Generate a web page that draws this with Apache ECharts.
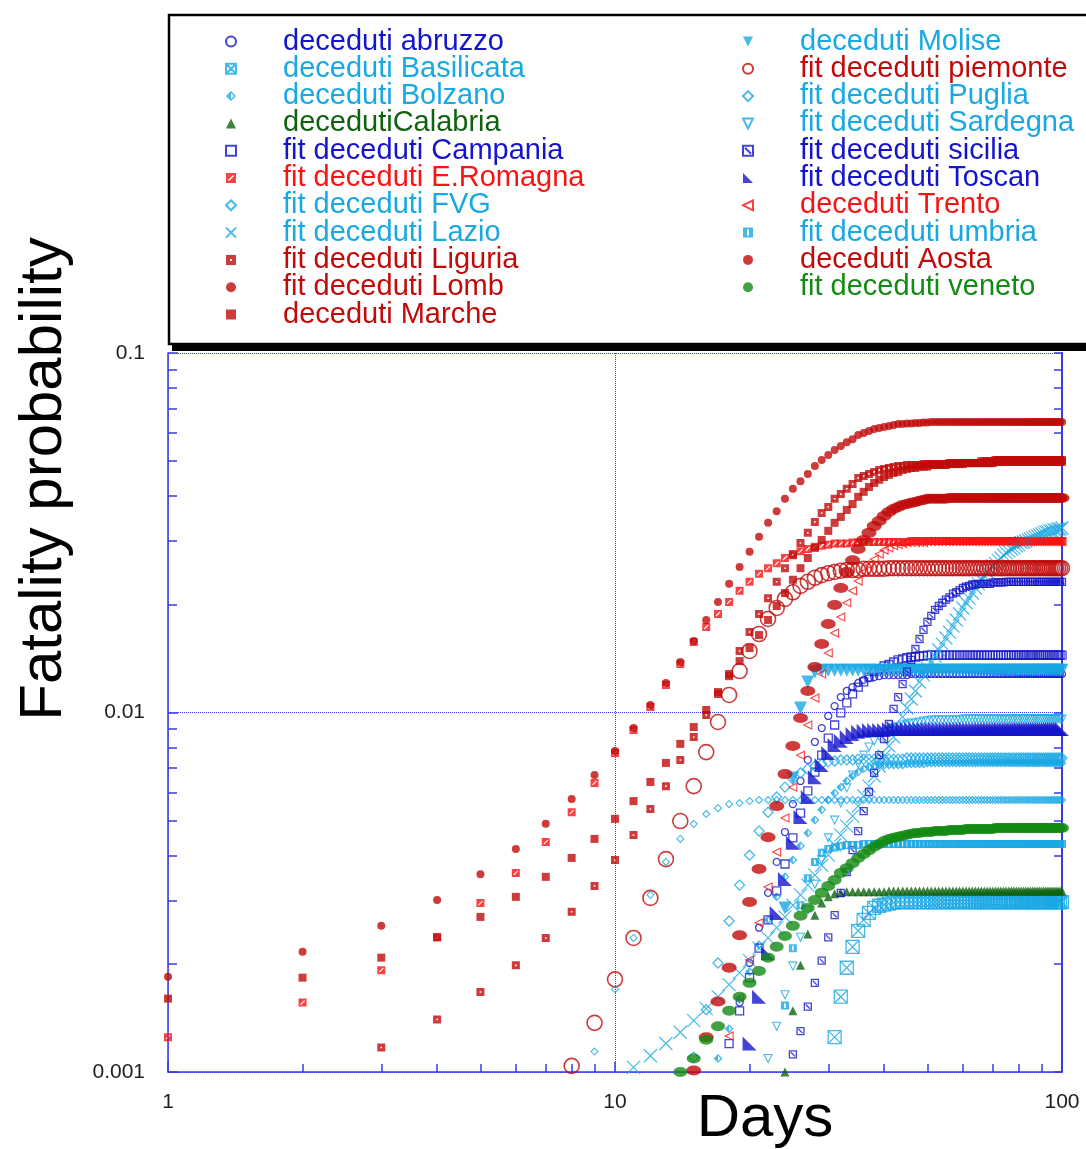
<!DOCTYPE html>
<html><head><meta charset="utf-8">
<script src="https://cdn.jsdelivr.net/npm/echarts@6/dist/echarts.min.js"></script>
<style>html,body{margin:0;padding:0;background:#fff}#c{width:1086px;height:1149px}</style>
</head><body><div id="c"></div>
<script>
// ---------------- DATA ----------------
const X_MAJOR = [1, 10, 100];
const X_LABELS = ['1', '10', '100'];
const X_MINOR = [2,3,4,5,6,7,8,9,20,30,40,50,60,70,80,90];
const Y_MAJOR = [0.001, 0.01, 0.1];
const Y_LABELS = ['0.001', '0.01', '0.1'];
const Y_MINOR = [0.002,0.003,0.004,0.005,0.006,0.007,0.008,0.009,0.02,0.03,0.04,0.05,0.06,0.07,0.08,0.09];

// first day of each series (values continue one per day up to day 100)
const startDay = {abruzzo:19, basilicata:31, bolzano:17, calabria:24, campania:18, eromagna:1, fvg:15, lazio:11,
  liguria:3, lomb:1, marche:1, molise:24, piemonte:8, puglia:9, sardegna:22, sicilia:25, toscan:20, trento:18,
  umbria:24, aosta:15, veneto:14};

const abruzzo = [
0.00156,0.00201,
0.00252,0.00315,0.00384,0.00465,0.00556,0.00645,0.00738,0.00828,0.00905,0.00978,
0.01042,0.01104,0.01148,0.01177,0.01208,0.01232,0.01247,0.01255,0.01262,0.0127,
0.0127,0.0127,0.0127,0.0127,0.0127,0.0128,0.0128,0.0128,0.0128,0.0128,
0.0128,0.0128,0.0128,0.0128,0.0128,0.0128,0.0128,0.0128,0.0128,0.0128,
0.0128,0.0128,0.0128,0.0128,0.0128,0.0128,0.0128,0.0128,0.0128,0.0128,
0.0128,0.0128,0.0128,0.0128,0.0128,0.0128,0.0128,0.0128,0.0128,0.0128,
0.0128,0.0128,0.0128,0.0128,0.0128,0.0128,0.0128,0.0128,0.0128,0.0128,
0.0128,0.0128,0.0128,0.0128,0.0128,0.0128,0.0128,0.0128,0.0128,0.0128];

const basilicata = [
0.00125,0.00162,0.00195,0.00223,0.00247,0.00265,0.00277,0.00286,0.0029,0.00292,
0.00294,0.00296,0.00297,0.00297,0.00297,0.00297,0.00297,0.00297,0.00297,0.00297,
0.00297,0.00297,0.00297,0.00297,0.00297,0.00297,0.00297,0.00297,0.00297,0.00297,
0.00297,0.00297,0.00297,0.00297,0.00297,0.00297,0.00297,0.00297,0.00297,0.00297,
0.00297,0.00297,0.00297,0.00297,0.00297,0.00297,0.00297,0.00297,0.00297,0.00297,
0.00297,0.00297,0.00297,0.00297,0.00297,0.00297,0.00297,0.00297,0.00297,0.00297,
0.00297,0.00297,0.00297,0.00297,0.00297,0.00297,0.00297,0.00297,0.00297,0.00297];

const bolzano = [
0.00109,0.00132,0.00159,0.0019,
0.00226,0.00265,0.00307,0.00349,0.00389,0.00425,0.00462,0.00502,0.00536,0.00571,
0.00597,0.0062,0.00645,0.00666,0.00683,0.00697,0.00706,0.0071,0.00714,0.00714,
0.00714,0.00714,0.00714,0.00714,0.00719,0.00719,0.00719,0.00719,0.00719,0.00724,
0.00724,0.00724,0.00724,0.00724,0.00724,0.00724,0.00724,0.00724,0.00724,0.00724,
0.00724,0.00724,0.00724,0.00724,0.00724,0.00724,0.00724,0.00724,0.00724,0.00724,
0.00724,0.00724,0.00724,0.00724,0.00724,0.00724,0.00724,0.00724,0.00724,0.00724,
0.00724,0.00724,0.00724,0.00724,0.00724,0.00724,0.00724,0.00724,0.00724,0.00724,
0.00724,0.00724,0.00724,0.00724,0.00724,0.00724,0.00724,0.00724,0.00724,0.00724];

const calabria = [
0.001,0.00148,0.00198,0.00242,0.00273,0.00295,0.00307,
0.00313,0.00315,0.00317,0.00317,0.00317,0.00317,0.00317,0.00317,0.00317,0.00317,
0.00319,0.00319,0.00319,0.00319,0.00319,0.00319,0.00319,0.00319,0.00319,0.00319,
0.00319,0.00319,0.00319,0.00319,0.00319,0.00319,0.00319,0.00319,0.00319,0.00319,
0.00319,0.00319,0.00319,0.00319,0.00319,0.00319,0.00319,0.00319,0.00319,0.00319,
0.00319,0.00319,0.00319,0.00319,0.00319,0.00319,0.00319,0.00319,0.00319,0.00319,
0.00319,0.00319,0.00319,0.00319,0.00319,0.00319,0.00319,0.00319,0.00319,0.00319,
0.00319,0.00319,0.00319,0.00319,0.00319,0.00319,0.00319,0.00319,0.00319,0.00319];

const campania = [
0.0012,0.00148,0.00183,
0.00221,0.00265,0.00319,0.00379,0.00448,0.00525,0.00605,0.00683,0.00761,0.00849,
0.00923,0.00997,0.01063,0.01126,0.01177,0.01216,0.01255,0.013,0.01321,0.01347,
0.0136,0.01382,0.014,0.01409,0.0142,0.01427,0.01427,0.01436,0.01436,0.01445,
0.01445,0.01445,0.01445,0.01445,0.01445,0.01445,0.01445,0.01445,0.01445,0.01445,
0.01445,0.01445,0.01445,0.01445,0.01445,0.01445,0.01445,0.01445,0.01445,0.01445,
0.01445,0.01445,0.01445,0.01445,0.01445,0.01445,0.01445,0.01445,0.01445,0.01445,
0.01445,0.01445,0.01445,0.01445,0.01445,0.01445,0.01445,0.01445,0.01445,0.01445,
0.01445,0.01445,0.01445,0.01445,0.01445,0.01445,0.01445,0.01445,0.01445,0.01445];

const eromagna = [
0.00125,0.00156,0.00192,0.00237,0.00295,0.00358,0.00436,0.00528,0.00637,0.00771,
0.00894,0.01036,0.01193,0.01364,0.01571,0.01729,0.01879,0.0203,0.0218,0.0231,
0.0243,0.0252,0.026,0.0269,0.0276,0.0281,0.0285,0.0289,0.0291,0.0293,
0.0295,0.0295,0.0295,0.0297,0.0297,0.0298,0.0298,0.0298,0.0298,0.0298,
0.0298,0.0298,0.0298,0.0298,0.0298,0.03,0.03,0.03,0.03,0.03,
0.03,0.03,0.03,0.03,0.03,0.03,0.03,0.03,0.03,0.03,
0.03,0.03,0.03,0.03,0.03,0.03,0.03,0.03,0.03,0.03,
0.03,0.03,0.03,0.03,0.03,0.03,0.03,0.03,0.03,0.03,
0.03,0.03,0.03,0.03,0.03,0.03,0.03,0.03,0.03,0.03,
0.03,0.03,0.03,0.03,0.03,0.03,0.03,0.03,0.03,0.03];

const fvg = [
0.0011,0.00149,0.00201,0.00263,0.00331,0.00401,
0.00468,0.00528,0.00582,0.0062,0.00653,0.00679,0.00697,0.0071,0.00719,0.00729,
0.00733,0.00738,0.00738,0.00738,0.00742,0.00742,0.00742,0.00742,0.00742,0.00742,
0.00742,0.00742,0.00742,0.00742,0.00747,0.00747,0.00747,0.00747,0.00747,0.00747,
0.00747,0.00747,0.00747,0.00747,0.00747,0.00747,0.00747,0.00747,0.00747,0.00747,
0.00747,0.00747,0.00747,0.00747,0.00747,0.00747,0.00747,0.00747,0.00747,0.00747,
0.00747,0.00747,0.00747,0.00747,0.00747,0.00747,0.00747,0.00747,0.00747,0.00747,
0.00747,0.00747,0.00747,0.00747,0.00747,0.00747,0.00747,0.00747,0.00747,0.00747,
0.00747,0.00747,0.00747,0.00747,0.00747,0.00747,0.00747,0.00747,0.00747,0.00747];

const lazio = [
0.00103,0.00111,0.0012,0.00129,0.00139,0.0015,0.00162,0.00175,0.00189,0.00204,
0.00221,0.00236,0.00252,0.0027,0.00291,0.00311,0.00331,0.00353,0.00376,0.00401,
0.00428,0.00456,0.00483,0.00515,0.00549,0.00586,0.00624,0.00666,0.0071,0.00757,
0.00807,0.00855,0.00911,0.00972,0.01029,0.0109,0.01148,0.01216,0.01271,0.01329,
0.01382,0.01436,0.01492,0.0155,0.01611,0.01674,0.0174,0.01809,0.01879,0.01953,
0.0202,0.0208,0.0215,0.0222,0.0228,0.0234,0.024,0.0246,0.0251,0.0256,
0.026,0.0265,0.0269,0.0274,0.0278,0.0281,0.0285,0.0287,0.0291,0.0293,
0.0297,0.0298,0.03,0.0302,0.0304,0.0306,0.0308,0.031,0.0312,0.0314,
0.0316,0.0318,0.0318,0.032,0.032,0.0322,0.0322,0.0324,0.0324,0.0326];

const liguria = [
0.00117,0.0014,0.00167,0.00198,0.00236,0.00279,0.00329,0.00389,
0.00456,0.00539,0.00624,0.00738,0.00855,0.00984,0.01126,0.0128,0.01483,0.01674,
0.01879,0.0208,0.0231,0.0252,0.0274,0.0296,0.0316,0.0339,0.0359,0.0373,
0.0393,0.0405,0.0419,0.0432,0.0449,0.0455,0.0461,0.0467,0.0473,0.0476,
0.0479,0.0482,0.0485,0.0485,0.0488,0.0488,0.0488,0.0488,0.0491,0.0491,
0.0491,0.0491,0.0491,0.0491,0.0491,0.0494,0.0494,0.0494,0.0494,0.0494,
0.0494,0.0494,0.0494,0.0494,0.0494,0.05,0.05,0.05,0.05,0.05,
0.0504,0.0504,0.0504,0.0504,0.0504,0.0504,0.0504,0.0504,0.0504,0.0504,
0.0504,0.0504,0.0504,0.0504,0.0504,0.0504,0.0504,0.0504,0.0504,0.0504,
0.0504,0.0504,0.0504,0.0504,0.0504,0.0504,0.0504,0.0504,0.0504,0.0504];

const lomb = [
0.00184,0.00216,0.00255,0.00301,0.00355,0.00417,0.0049,0.00575,0.0067,0.00781,
0.00905,0.01049,0.01208,0.01382,0.01581,0.01809,0.0203,0.0228,0.0254,0.028,
0.0308,0.0337,0.0363,0.0393,0.0419,0.044,0.0461,0.0485,0.0504,0.052,
0.0537,0.0551,0.0565,0.0576,0.0591,0.0599,0.0607,0.0615,0.0619,0.0623,
0.0627,0.0631,0.0635,0.0635,0.0637,0.0637,0.0639,0.0639,0.0641,0.0641,
0.0643,0.0643,0.0643,0.0643,0.0643,0.0643,0.0643,0.0643,0.0643,0.0643,
0.0643,0.0643,0.0643,0.0643,0.0643,0.0643,0.0643,0.0643,0.0643,0.0643,
0.0643,0.0643,0.0643,0.0643,0.0643,0.0643,0.0643,0.0643,0.0643,0.0643,
0.0643,0.0643,0.0643,0.0643,0.0643,0.0643,0.0643,0.0643,0.0643,0.0643,
0.0643,0.0643,0.0643,0.0643,0.0643,0.0643,0.0643,0.0643,0.0643,0.0643];

const marche = [
0.0016,0.00183,0.00208,0.00237,0.0027,0.00307,0.00349,0.00394,0.00445,0.00506,
0.00567,0.00641,0.00724,0.00818,0.00911,0.01016,0.0114,0.01262,0.0139,0.01511,
0.01642,0.01809,0.01978,0.0215,0.0234,0.0252,0.0269,0.0287,0.0302,0.032,
0.0337,0.035,0.0366,0.038,0.0398,0.0411,0.0424,0.0435,0.0444,0.0452,
0.0458,0.0464,0.0467,0.0473,0.0476,0.0479,0.0479,0.0483,0.0483,0.0483,
0.0488,0.0488,0.0488,0.0488,0.0488,0.0491,0.0491,0.0491,0.0491,0.0491,
0.0494,0.0494,0.0494,0.0494,0.0494,0.0494,0.0494,0.0494,0.0494,0.0494,
0.0498,0.0498,0.0498,0.0498,0.0498,0.0498,0.0498,0.0498,0.0498,0.0498,
0.0498,0.0498,0.0498,0.0498,0.0498,0.0498,0.0498,0.0498,0.0498,0.0498,
0.0498,0.0498,0.0498,0.0498,0.0498,0.0498,0.0498,0.0498,0.0498,0.0498];

const molise = [
0.00286,0.00657,0.01029,0.01216,0.01297,0.0131,0.0131,
0.0131,0.0131,0.0131,0.0131,0.0131,0.0131,0.0131,0.0131,0.0131,0.0131,
0.0131,0.0131,0.0131,0.0131,0.0131,0.0131,0.0131,0.0131,0.0131,0.0131,
0.0131,0.0131,0.0131,0.0131,0.0131,0.0131,0.0131,0.0131,0.0131,0.0131,
0.0131,0.0131,0.0131,0.0131,0.0131,0.0131,0.0131,0.0131,0.0131,0.0131,
0.0131,0.0131,0.0131,0.0131,0.0131,0.0131,0.0131,0.0131,0.0131,0.0131,
0.0131,0.0131,0.0131,0.0131,0.0131,0.0131,0.0131,0.0131,0.0131,0.0131,
0.0131,0.0131,0.0131,0.0131,0.0131,0.0131,0.0131,0.0131,0.0131,0.0131];

const piemonte = [
0.00104,0.00137,0.00181,
0.00236,0.00305,0.00391,0.00499,0.00624,0.00776,0.00941,0.01119,0.01304,0.01483,
0.01653,0.0182,0.01953,0.0207,0.0216,0.0225,0.0231,0.0237,0.0241,0.0244,
0.0246,0.0248,0.0249,0.0249,0.0249,0.0251,0.0251,0.0251,0.0251,0.0251,
0.0252,0.0252,0.0252,0.0252,0.0252,0.0252,0.0252,0.0252,0.0252,0.0252,
0.0252,0.0252,0.0252,0.0252,0.0252,0.0252,0.0252,0.0252,0.0252,0.0252,
0.0252,0.0252,0.0252,0.0252,0.0252,0.0252,0.0252,0.0252,0.0252,0.0252,
0.0252,0.0252,0.0252,0.0252,0.0252,0.0252,0.0252,0.0252,0.0252,0.0252,
0.0252,0.0252,0.0252,0.0252,0.0252,0.0252,0.0252,0.0252,0.0252,0.0252,
0.0252,0.0252,0.0252,0.0252,0.0252,0.0252,0.0252,0.0252,0.0252,0.0252];

const puglia = [
0.00114,0.0017,
0.00236,0.00311,0.00384,0.00445,0.0049,0.00522,0.00542,0.00556,0.0056,0.00567,
0.00571,0.00571,0.00571,0.00571,0.00571,0.00571,0.00571,0.00571,0.00571,0.00571,
0.00571,0.00571,0.00571,0.00571,0.00571,0.00571,0.00571,0.00571,0.00571,0.00571,
0.00571,0.00571,0.00571,0.00571,0.00571,0.00571,0.00571,0.00571,0.00571,0.00571,
0.00571,0.00571,0.00571,0.00571,0.00571,0.00571,0.00571,0.00571,0.00571,0.00571,
0.00571,0.00571,0.00571,0.00571,0.00571,0.00571,0.00571,0.00571,0.00571,0.00571,
0.00571,0.00571,0.00571,0.00571,0.00571,0.00571,0.00571,0.00571,0.00571,0.00571,
0.00571,0.00571,0.00571,0.00571,0.00571,0.00571,0.00571,0.00571,0.00571,0.00571,
0.00571,0.00571,0.00571,0.00571,0.00571,0.00571,0.00571,0.00571,0.00571,0.00571];

const sardegna = [
0.00109,0.00134,0.00164,0.00197,0.00237,0.00282,0.00333,0.00389,0.00448,
0.00502,0.0056,0.00617,0.0067,0.00719,0.00761,0.00802,0.00833,0.0086,0.00882,
0.00894,0.00905,0.00911,0.00923,0.00929,0.00935,0.00935,0.00941,0.00947,0.00947,
0.00953,0.00953,0.00953,0.00953,0.00953,0.00953,0.00953,0.00953,0.00953,0.00959,
0.00959,0.00959,0.00959,0.00959,0.00959,0.00959,0.00959,0.00959,0.00959,0.00959,
0.00959,0.00959,0.00959,0.00959,0.00959,0.00959,0.00959,0.00959,0.00959,0.00959,
0.00959,0.00959,0.00959,0.00959,0.00959,0.00959,0.00959,0.00959,0.00959,0.00959,
0.00959,0.00959,0.00959,0.00959,0.00959,0.00959,0.00959,0.00959,0.00959,0.00959];

const sicilia = [
0.00112,0.0013,0.00152,0.00177,0.00204,0.00237,
0.00273,0.00315,0.0036,0.00414,0.00468,0.00532,0.00601,0.00679,0.00761,0.00844,
0.00929,0.01023,0.01104,0.012,0.013,0.014,0.01502,0.01601,0.01697,0.01786,
0.01856,0.01929,0.01978,0.0202,0.0206,0.0209,0.0214,0.0216,0.0219,0.0222,
0.0224,0.0225,0.0227,0.0227,0.0228,0.0228,0.0228,0.0228,0.0228,0.023,
0.023,0.023,0.023,0.023,0.0231,0.0231,0.0231,0.0231,0.0231,0.0231,
0.0231,0.0231,0.0231,0.0231,0.0231,0.0231,0.0231,0.0231,0.0231,0.0231,
0.0231,0.0231,0.0231,0.0231,0.0231,0.0231,0.0231,0.0231,0.0231,0.0231];

const toscan = [
0.0012,
0.00162,0.00214,0.00277,0.00344,0.00434,0.00512,0.00582,0.00661,0.00714,0.00771,
0.00812,0.00834,0.00855,0.00872,0.00884,0.0089,0.00894,0.00894,0.00894,0.00894,
0.009,0.009,0.009,0.009,0.009,0.009,0.009,0.009,0.009,0.009,
0.009,0.009,0.009,0.009,0.009,0.009,0.009,0.009,0.009,0.009,
0.009,0.009,0.009,0.009,0.009,0.009,0.009,0.009,0.009,0.009,
0.009,0.009,0.009,0.009,0.009,0.009,0.009,0.009,0.009,0.009,
0.009,0.009,0.009,0.009,0.009,0.009,0.009,0.009,0.009,0.009,
0.009,0.009,0.009,0.009,0.009,0.009,0.009,0.009,0.009,0.009];

const trento = [
0.00126,0.00161,0.00205,
0.0026,0.00327,0.00409,0.00509,0.0062,0.00761,0.00923,0.01097,0.0128,0.01463,
0.01664,0.01844,0.0202,0.0218,0.0232,0.0246,0.0257,0.0267,0.0276,0.0283,
0.0287,0.0291,0.0293,0.0295,0.0297,0.0297,0.0297,0.0297,0.0297,0.0299,
0.0299,0.0299,0.0299,0.0299,0.0299,0.0299,0.0299,0.0299,0.0299,0.0299,
0.0299,0.0299,0.0299,0.0299,0.0299,0.0299,0.0299,0.0299,0.0299,0.0299,
0.0299,0.0299,0.0299,0.0299,0.0299,0.0299,0.0299,0.0299,0.0299,0.0299,
0.0299,0.0299,0.0299,0.0299,0.0299,0.0299,0.0299,0.0299,0.0299,0.0299,
0.0299,0.0299,0.0299,0.0299,0.0299,0.0299,0.0299,0.0299,0.0299,0.0299];

const umbria = [
0.00153,0.00221,0.00291,0.00346,0.00384,0.00407,0.00417,
0.00421,0.00425,0.00428,0.00428,0.00428,0.00431,0.00431,0.00431,0.00431,0.00431,
0.00431,0.00431,0.00431,0.00431,0.00431,0.00431,0.00431,0.00431,0.00431,0.00431,
0.00431,0.00431,0.00431,0.00431,0.00431,0.00431,0.00431,0.00431,0.00431,0.00431,
0.00431,0.00431,0.00431,0.00431,0.00431,0.00431,0.00431,0.00431,0.00431,0.00431,
0.00431,0.00431,0.00431,0.00431,0.00431,0.00431,0.00431,0.00431,0.00431,0.00431,
0.00431,0.00431,0.00431,0.00431,0.00431,0.00431,0.00431,0.00431,0.00431,0.00431,
0.00431,0.00431,0.00431,0.00431,0.00431,0.00431,0.00431,0.00431,0.00431,0.00431];

const aosta = [
0.00101,0.00125,0.00157,0.00195,0.0024,0.00297,
0.00367,0.0045,0.00549,0.00674,0.00807,0.00965,0.01148,0.01338,0.0155,0.01762,
0.01991,0.0222,0.0246,0.0265,0.0285,0.0302,0.0316,0.033,0.0341,0.0352,
0.0361,0.0368,0.0373,0.0378,0.038,0.0383,0.0385,0.0388,0.039,0.0393,
0.0393,0.0393,0.0393,0.0393,0.0393,0.0395,0.0395,0.0395,0.0395,0.0395,
0.0395,0.0395,0.0395,0.0395,0.0395,0.0395,0.0395,0.0395,0.0395,0.0395,
0.0395,0.0395,0.0395,0.0395,0.0395,0.0395,0.0395,0.0395,0.0395,0.0395,
0.0395,0.0395,0.0395,0.0395,0.0395,0.0395,0.0395,0.0395,0.0395,0.0395,
0.0395,0.0395,0.0395,0.0395,0.0395,0.0395,0.0395,0.0395,0.0395,0.0395];

const veneto = [
0.001,0.00109,0.00123,0.00134,0.00148,0.00162,0.00177,
0.00191,0.00208,0.00223,0.00239,0.00255,0.00272,0.00286,0.00301,0.00315,0.00329,
0.00342,0.00358,0.00369,0.00381,0.00394,0.00404,0.00414,0.00423,0.00431,0.00439,
0.00445,0.00448,0.00451,0.00454,0.00457,0.0046,0.00462,0.00462,0.00465,0.00465,
0.00465,0.00468,0.00468,0.00468,0.00468,0.00471,0.00471,0.00471,0.00471,0.00471,
0.00474,0.00474,0.00474,0.00474,0.00474,0.00474,0.00474,0.00474,0.00474,0.00474,
0.00477,0.00477,0.00477,0.00477,0.00477,0.00477,0.00477,0.00477,0.00477,0.00477,
0.00477,0.00477,0.00477,0.00477,0.00477,0.00477,0.00477,0.00477,0.00477,0.00477,
0.00477,0.00477,0.00477,0.00477,0.00477,0.00477,0.00477,0.00477,0.00477,0.00477];

const VALUES = {abruzzo, basilicata, bolzano, calabria, campania, eromagna, fvg, lazio, liguria, lomb, marche,
  molise, piemonte, puglia, sardegna, sicilia, toscan, trento, umbria, aosta, veneto};

// ---------------- STYLE ----------------
const C = {blue:'#1414cc', lblue:'#18a8e4', red:'#f71414', dred:'#c10a0a', green:'#138a13', dgreen:'#0f630f'};
const AX = '#3a3ae6';
const FONT = '"Liberation Sans", Arial, Helvetica, sans-serif';

const SQ = 'M0,0L10,0L10,10L0,10Z';
const SPECS = [
  {key:'abruzzo',   name:'deceduti abruzzo',      color:C.blue,  symbol:'circle', size:7,  hollow:true, bw:1.3, col:0},
  {key:'basilicata',name:'deceduti Basilicata',   color:C.lblue, symbol:'path://'+SQ+'M0,0L10,10M10,0L0,10', size:13, hollow:true, bw:1.3, col:0},
  {key:'bolzano',   name:'deceduti Bolzano',      color:C.lblue, symbol:'path://M5,0L0,5L5,10L10,5Z M5,2L8,5L5,8Z', size:9, col:0},
  {key:'calabria',  name:'decedutiCalabria',      color:C.dgreen,symbol:'triangle', size:9, col:0},
  {key:'campania',  name:'fit deceduti Campania', color:C.blue,  symbol:'rect', size:8, hollow:true, bw:1.3, col:0},
  {key:'eromagna',  name:'fit deceduti E.Romagna',color:C.red,   symbol:'path://'+SQ+' M2,7L3,8L8,3L7,2Z', size:8, col:0},
  {key:'fvg',       name:'fit deceduti FVG',      color:C.lblue, symbol:'diamond', size:10, hollow:true, bw:1.3, col:0},
  {key:'lazio',     name:'fit deceduti Lazio',    color:C.lblue, symbol:'path://M0,0L10,10M10,0L0,10', size:13, hollow:true, bw:1.2, col:0},
  {key:'liguria',   name:'fit deceduti Liguria',  color:C.dred,  symbol:'path://'+SQ+' M4,4L4,6L6,6L6,4Z', size:8, col:0},
  {key:'lomb',      name:'fit deceduti Lomb',     color:C.dred,  symbol:'circle', size:8, col:0},
  {key:'marche',    name:'deceduti Marche',       color:C.dred,  symbol:'rect', size:8, col:0},
  {key:'molise',    name:'deceduti Molise',       color:C.lblue, symbol:'path://M0,0L10,0L5,10Z', size:13, col:1},
  {key:'piemonte',  name:'fit deceduti piemonte', color:C.dred,  symbol:'circle', size:15, hollow:true, bw:1.6, col:1},
  {key:'puglia',    name:'fit deceduti Puglia',   color:C.lblue, symbol:'diamond', size:7, hollow:true, bw:1.1, col:1},
  {key:'sardegna',  name:'fit deceduti Sardegna', color:C.lblue, symbol:'path://M0,0L10,0L5,10Z', size:8, hollow:true, bw:1.1, col:1},
  {key:'sicilia',   name:'fit deceduti sicilia',  color:C.blue,  symbol:'path://'+SQ+' M2,2L8,8', size:7, hollow:true, bw:1.3, col:1},
  {key:'toscan',    name:'fit deceduti Toscan',   color:C.blue,  symbol:'path://M0,0L10,10L0,10Z', size:14, col:1},
  {key:'trento',    name:'deceduti Trento',       color:C.red,   symbol:'path://M10,0L0,5L10,10Z', size:8, hollow:true, bw:1.1, col:1},
  {key:'umbria',    name:'fit deceduti umbria',   color:C.lblue, symbol:'path://'+SQ+' M4,2L4,8L6,8L6,2Z', size:8, col:1},
  {key:'aosta',     name:'deceduti Aosta',        color:C.dred,  symbol:'circle', size:[15,10], col:1},
  {key:'veneto',    name:'fit deceduti veneto',   color:C.green, symbol:'circle', size:[14,10], col:1}
];

const series = SPECS.map(s => ({
  type: 'scatter',
  name: s.name,
  symbol: s.symbol,
  symbolSize: s.size,
  data: VALUES[s.key].map((v, i) => [startDay[s.key] + i, v]),
  itemStyle: s.hollow ? {color:'rgba(0,0,0,0)', borderColor:s.color, borderWidth:s.bw} : {color:s.color},
  emphasis: {disabled: true},
  clip: true
}));

function legendCol(col, left) {
  return {
    orient:'vertical', left:left, top:22, itemWidth:10, itemHeight:10, itemGap:-1.7,
    selectedMode:false,
    textStyle:{fontSize:29, fontFamily:FONT, lineHeight:27.3, padding:[0,0,0,42]},
    data: SPECS.filter(s => s.col === col).map(s => ({name:s.name, textStyle:{color:s.color}}))
  };
}

const lbl = (vals, labels) => v => {
  const i = vals.findIndex(m => Math.abs(m - v) / m < 1e-6);
  return i >= 0 ? labels[i] : '';
};

const axisLabelStyle = {fontSize:21, fontFamily:FONT, color:'#1e1e1e'};

const option = {
  animation:false,
  backgroundColor:'#fff',
  grid:{left:168, right:24, top:353, bottom:77, containLabel:false},
  legend:[legendCol(0, 220), legendCol(1, 737)],
  xAxis:[
    {type:'log', logBase:10, min:1, max:100, position:'bottom',
     axisLine:{show:true, lineStyle:{color:AX, width:1.5}},
     axisTick:{show:true, inside:true, length:10, customValues:X_MAJOR, lineStyle:{color:AX, width:1.5}},
     axisLabel:{show:true, margin:20, customValues:X_MAJOR, formatter:lbl(X_MAJOR, X_LABELS), ...axisLabelStyle},
     splitLine:{show:true, lineStyle:{type:'dotted', color:AX, width:1}},
     minorTick:{show:false}},
    {type:'log', logBase:10, min:1, max:100, position:'bottom',
     axisLine:{show:false},
     axisTick:{show:true, inside:true, length:8, customValues:X_MINOR, lineStyle:{color:AX, width:1.5}},
     axisLabel:{show:false}, splitLine:{show:false}}
  ],
  yAxis:[
    {type:'log', logBase:10, min:0.001, max:0.1, position:'left',
     axisLine:{show:true, lineStyle:{color:AX, width:1.5}},
     axisTick:{show:true, inside:true, length:10, customValues:Y_MAJOR, lineStyle:{color:AX, width:1.5}},
     axisLabel:{show:true, margin:23, customValues:Y_MAJOR, formatter:lbl(Y_MAJOR, Y_LABELS), ...axisLabelStyle},
     splitLine:{show:true, lineStyle:{type:'dotted', color:AX, width:1}},
     minorTick:{show:false}},
    {type:'log', logBase:10, min:0.001, max:0.1, position:'left',
     axisLine:{show:false},
     axisTick:{show:true, inside:true, length:9, customValues:Y_MINOR, lineStyle:{color:AX, width:1.5}},
     axisLabel:{show:false}, splitLine:{show:false}},
    {type:'log', logBase:10, min:0.001, max:0.1, position:'right',
     axisLine:{show:true, lineStyle:{color:AX, width:2}},
     axisTick:{show:true, inside:true, length:8, customValues:Y_MAJOR.concat(Y_MINOR), lineStyle:{color:AX, width:1.5}},
     axisLabel:{show:false}, splitLine:{show:false}}
  ],
  graphic:[
    {type:'rect', z:0, shape:{x:172, y:20, width:940, height:331}, style:{fill:'#000'}},
    {type:'rect', z:1, shape:{x:169, y:15, width:940, height:329}, style:{fill:'#fff', stroke:'#000', lineWidth:2.5}},
    {type:'text', z:5, x:44, y:479, rotation:Math.PI/2,
     style:{text:'Fatality probability', font:'60px ' + FONT, fill:'#000', textAlign:'center', textVerticalAlign:'middle'}},
    {type:'text', z:5, x:765, y:1119,
     style:{text:'Days', font:'60px ' + FONT, fill:'#000', textAlign:'center', textVerticalAlign:'middle'}}
  ],
  series: series
};

const chart = echarts.init(document.getElementById('c'), null, {renderer:'canvas'});
chart.setOption(option);
</script>
</body></html>
